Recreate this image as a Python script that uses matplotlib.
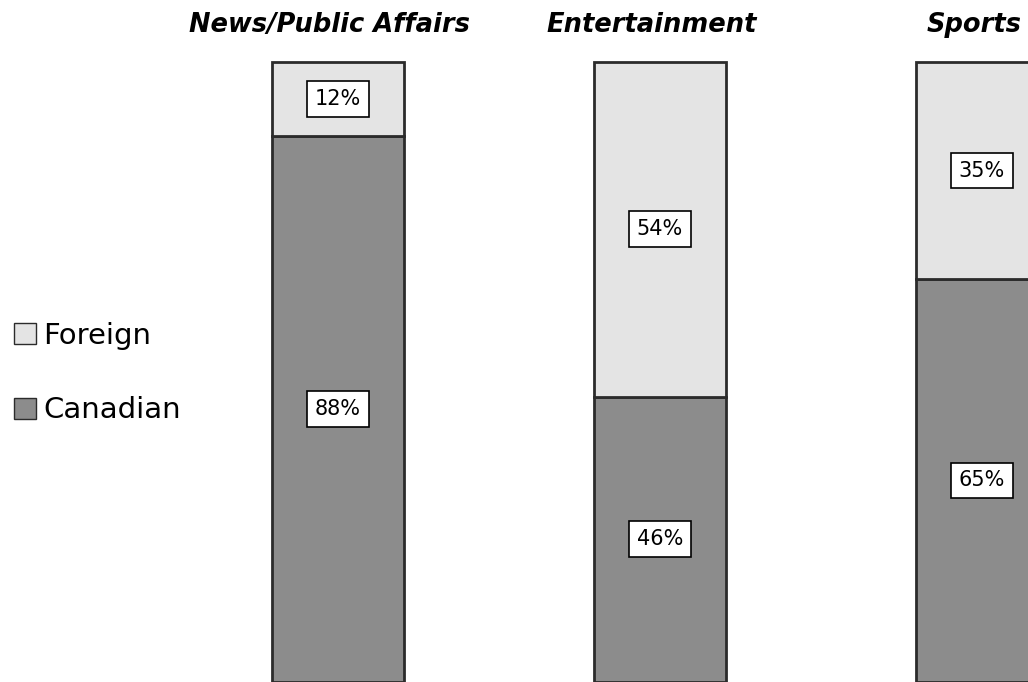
import matplotlib
matplotlib.use("Agg")
from matplotlib import pyplot as plt
from matplotlib.patches import Patch

# categorias y porcentajes
categorias = ['News/Public Affairs', 'Entertainment', 'Sports']
canadian = [88, 46, 65]
foreign = [12, 54, 35]

col_can = '#8c8c8c'
col_for = '#e4e4e4'
borde = '#2b2b2b'

fig = plt.figure(figsize=(10.28, 6.82), dpi=100)
ax = fig.add_axes([0, 0, 1, 1])

x = list(range(len(categorias)))
ancho = 0.41
ax.bar(x, canadian, ancho, color=col_can, edgecolor=borde, linewidth=2)
ax.bar(x, foreign, ancho, bottom=canadian, color=col_for, edgecolor=borde, linewidth=2)

caja = dict(boxstyle='square,pad=0.38', facecolor='white', edgecolor='black', linewidth=1.2)
for i in x:
    ax.text(i, canadian[i] / 2, f'{canadian[i]}%', ha='center', va='center',
            fontsize=15, bbox=caja)
    ax.text(i, canadian[i] + foreign[i] / 2, f'{foreign[i]}%', ha='center', va='center',
            fontsize=15, bbox=caja)
    ax.text(i - 0.025, 106, categorias[i], ha='center', va='center', fontsize=18.5,
            fontweight='bold', fontstyle='italic')

ax.set_xlim(-1.0497, 2.1429)
ax.set_ylim(0, 110)
ax.axis('off')

handles = [Patch(facecolor=col_for, edgecolor=borde, label='Foreign'),
           Patch(facecolor=col_can, edgecolor=borde, label='Canadian')]
ax.legend(handles=handles, loc='center left', bbox_to_anchor=(0.002, 0.453),
          frameon=False, fontsize=21, handlelength=0.75, handleheight=0.75,
          handletextpad=0.25, labelspacing=1.6, borderaxespad=0)

fig.savefig('out.png', dpi=100)
